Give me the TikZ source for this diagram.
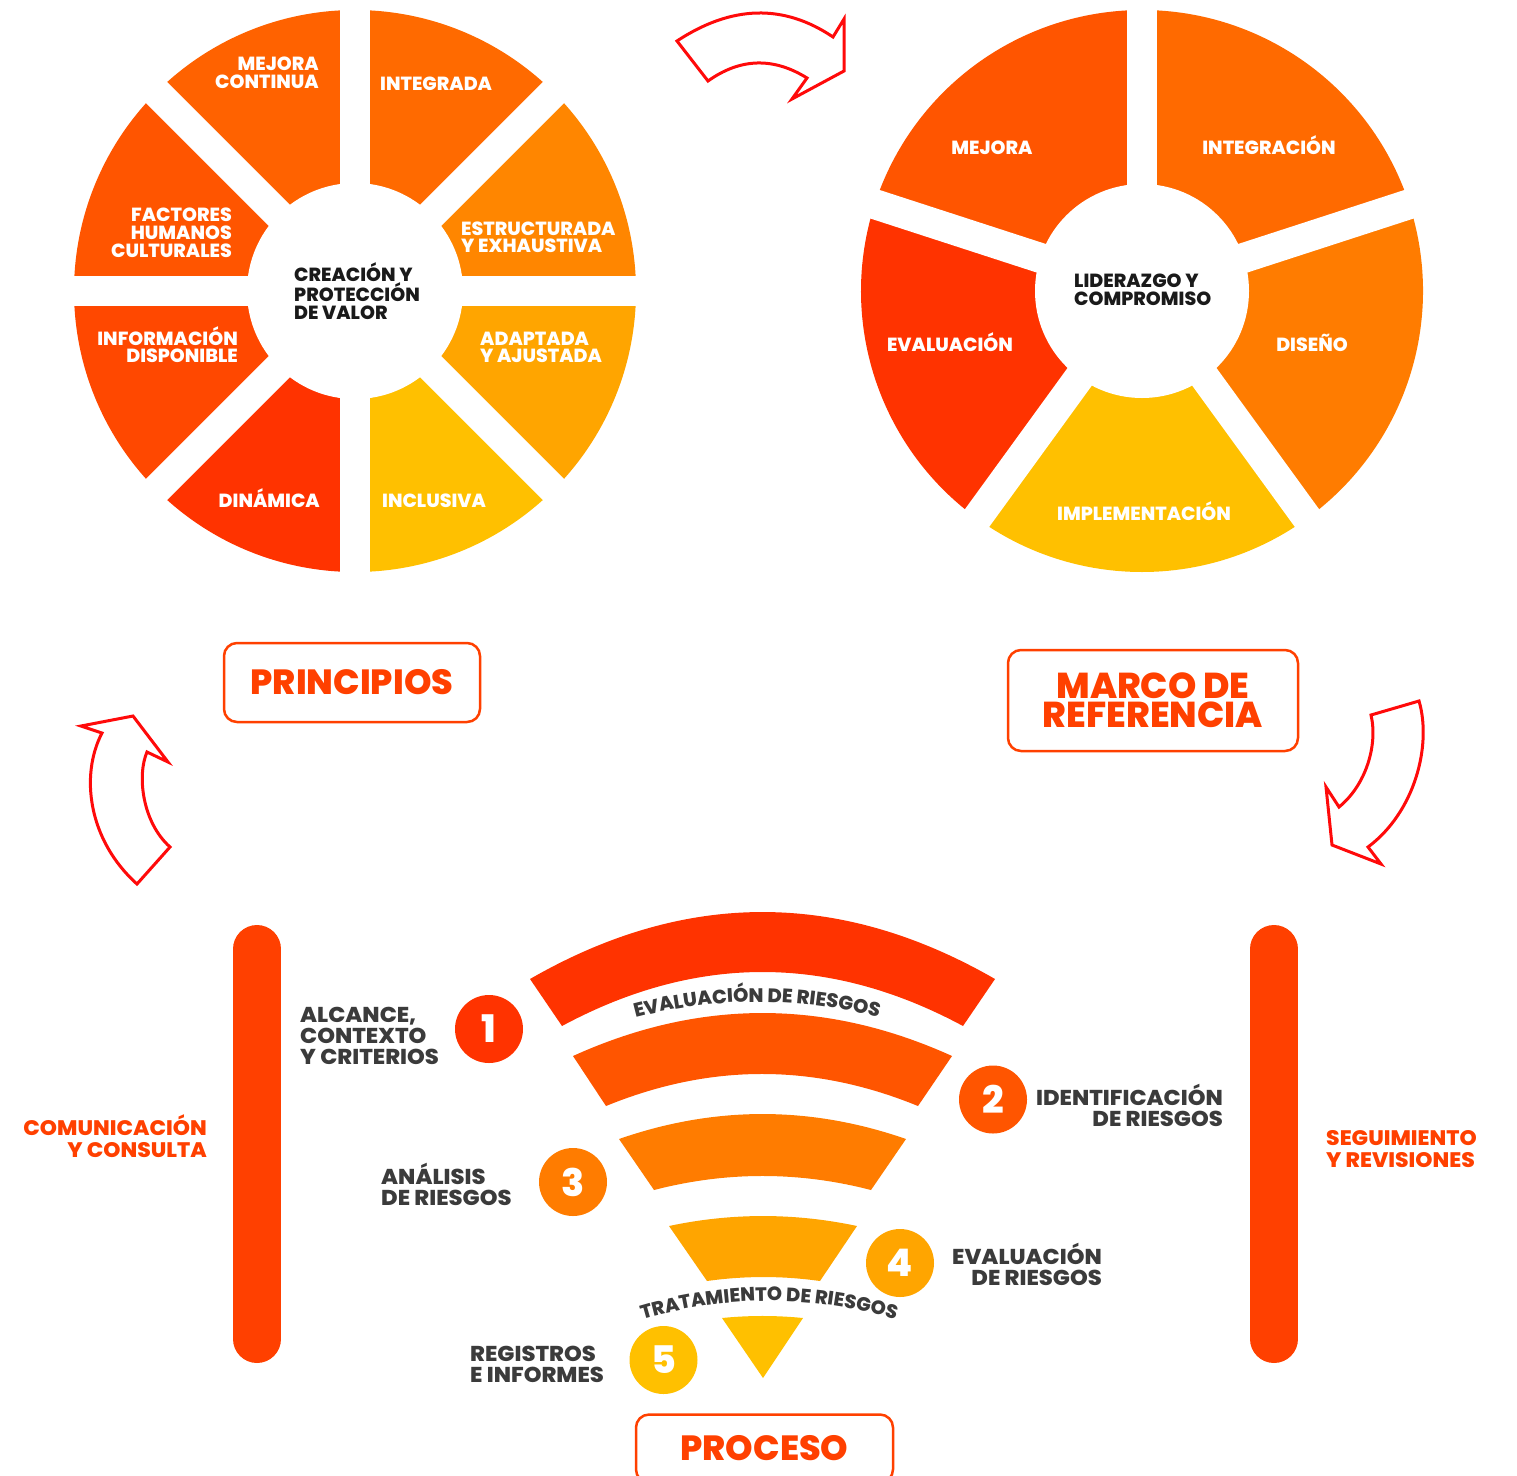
\documentclass[tikz,border=0pt]{standalone}
\usepackage{fontspec}
\setmainfont{Poppins}[BoldFont={Poppins ExtraBold}]
\usetikzlibrary{decorations.text}
\definecolor{wRed}{HTML}{FF3300}
\definecolor{wRedB}{HTML}{FF4800}
\definecolor{wOrA}{HTML}{FF5500}
\definecolor{wOrB}{HTML}{FF6200}
\definecolor{wOrC}{HTML}{FF6A00}
\definecolor{wOrD}{HTML}{FF7C00}
\definecolor{wOrE}{HTML}{FF8600}
\definecolor{wAmb}{HTML}{FFA500}
\definecolor{wYel}{HTML}{FFC000}
\definecolor{arrRed}{HTML}{FF0A0A}
\definecolor{accent}{HTML}{FF4000}
\definecolor{txtDark}{HTML}{3B3B3B}
\definecolor{txtBlack}{HTML}{1A1A1A}
\tikzset{
  wlab/.style={text=white, inner sep=0pt, font=\fontsize{19}{17.8}\selectfont\bfseries},
  clab/.style={text=txtBlack, inner sep=0pt, font=\fontsize{19}{17.8}\selectfont\bfseries, align=left},
  plab/.style={text=txtDark, inner sep=0pt, font=\fontsize{21.5}{21}\selectfont\bfseries\addfontfeatures{FakeStretch=1.05}},
  slab/.style={text=accent, inner sep=0pt, font=\fontsize{21}{22}\selectfont\bfseries\addfontfeatures{FakeStretch=1.04}},
  numc/.style={circle, inner sep=0pt, minimum size=68pt, text=white, font=\fontsize{38}{38}\selectfont\bfseries},
  titlebox/.style={draw=accent, line width=2.5pt, rounded corners=13pt, text=accent, inner sep=0pt, align=center},
  blockarrow/.style={draw=arrRed, line width=3pt, fill=white, line join=miter},
  sidebar/.style={draw=accent, line width=48pt, line cap=round},
  gapline/.style={draw=white, line width=30pt},
}
\begin{document}
\begin{tikzpicture}[x=1pt,y=-1pt]
\useasboundingbox (0,0) rectangle (1517,1475);
% ---------------- left wheel : principios
\coordinate (P) at (355,291);
\fill[wOrC]  (P) -- ++(-90:281) arc[start angle=-90,end angle=-45,radius=281] -- cycle;
\fill[wOrE]  (P) -- ++(-45:281) arc[start angle=-45,end angle=0,radius=281] -- cycle;
\fill[wAmb]  (P) -- ++(0:281) arc[start angle=0,end angle=45,radius=281] -- cycle;
\fill[wYel]  (P) -- ++(45:281) arc[start angle=45,end angle=90,radius=281] -- cycle;
\fill[wRed]  (P) -- ++(90:281) arc[start angle=90,end angle=135,radius=281] -- cycle;
\fill[wRedB] (P) -- ++(135:281) arc[start angle=135,end angle=180,radius=281] -- cycle;
\fill[wOrA]  (P) -- ++(180:281) arc[start angle=180,end angle=225,radius=281] -- cycle;
\fill[wOrB]  (P) -- ++(225:281) arc[start angle=225,end angle=270,radius=281] -- cycle;
\foreach \a in {0,45,90,135} \draw[gapline] (P) ++(\a:300) -- ++(\a+180:600);
\fill[white] (P) circle[radius=108];
\node[wlab, anchor=base east, align=right] (l1) at (319,88.6) {MEJORA\\CONTINUA};
\node[wlab, anchor=base west] (l2) at (380,90.6) {INTEGRADA};
\node[wlab, anchor=base east, align=right] (l3) at (232,257.5) {FACTORES\\HUMANOS\\CULTURALES};
\node[wlab, anchor=base west, align=left] (l4) at (461,252.9) {ESTRUCTURADA\\Y EXHAUSTIVA};
\node[clab, anchor=base west] (l0) at (294,319.2) {CREACIÓN Y\\PROTECCIÓN\\DE VALOR};
\node[wlab, anchor=base east, align=right] (l5) at (238,362.9) {INFORMACIÓN\\DISPONIBLE};
\node[wlab, anchor=base west, align=left] (l6) at (480,362.9) {ADAPTADA\\Y AJUSTADA};
\node[wlab, anchor=base east] (l7) at (320,507.1) {DINÁMICA};
\node[wlab, anchor=base west] (l8) at (382,507.1) {INCLUSIVA};
% ---------------- right wheel : marco
\coordinate (Q) at (1142,291);
\fill[wOrA] (Q) -- ++(198:281) arc[start angle=198,end angle=270,radius=281] -- cycle;
\fill[wOrC] (Q) -- ++(-90:281) arc[start angle=-90,end angle=-18,radius=281] -- cycle;
\fill[wOrD] (Q) -- ++(-18:281) arc[start angle=-18,end angle=54,radius=281] -- cycle;
\fill[wYel] (Q) -- ++(54:281) arc[start angle=54,end angle=126,radius=281] -- cycle;
\fill[wRed] (Q) -- ++(126:281) arc[start angle=126,end angle=198,radius=281] -- cycle;
\foreach \a in {-90,-18,54,126,198} \draw[gapline] (Q) -- ++(\a:300);
\fill[white] (Q) circle[radius=107];
\node[wlab, anchor=base] (r1) at (992,154) {MEJORA};
\node[wlab, anchor=base] (r2) at (1269,154) {INTEGRACIÓN};
\node[clab, anchor=base west] (r0) at (1074,305.4) {LIDERAZGO Y\\COMPROMISO};
\node[wlab, anchor=base] (r3) at (950,351.6) {EVALUACIÓN};
\node[wlab, anchor=base] (r4) at (1312,351.6) {DISEÑO};
\node[wlab, anchor=base] (r5) at (1144,520) {IMPLEMENTACIÓN};
% ---------------- block arrows
\draw[blockarrow] (677,41) -- (708,81) .. controls (740.3,58) and (773.3,57) .. (807,78) -- (792,99) -- (844,71) -- (844,19) -- (833,37) .. controls (783.7,3.7) and (731.7,5) .. (677,41) -- cycle;
\draw[blockarrow] (133,716) -- (81,726) -- (102,733) .. controls (80,775) and (88,840) .. (137,884) -- (170,847) .. controls (142,822) and (137,775) .. (147,752) -- (168,762) -- cycle;
\draw[blockarrow] (1419,701) -- (1371,715) .. controls (1378,745) and (1366,785) .. (1339,807) -- (1326,787) -- (1332,845) -- (1381,864) -- (1368,847) .. controls (1415,812) and (1432,745) .. (1419,701) -- cycle;
% ---------------- title boxes
\node[titlebox, minimum width=256pt, minimum height=79pt, font=\fontsize{35}{35}\selectfont\bfseries] (principios) at (352,682.5) {\raisebox{-2pt}{PRINCIPIOS}};
\node[titlebox, minimum width=290pt, minimum height=101pt, font=\fontsize{36}{29}\selectfont\bfseries] (marco) at (1153,700.5) {MARCO DE\\REFERENCIA};
\node[titlebox, minimum width=257pt, minimum height=68pt, font=\fontsize{35}{35}\selectfont\bfseries] (proceso) at (764.5,1448.5) {PROCESO};
% ---------------- side bars
\coordinate (bl1) at (257,949); \coordinate (bl2) at (257,1339);
\coordinate (br1) at (1274,949); \coordinate (br2) at (1274,1339);
\draw[sidebar] (bl1) -- (bl2);
\draw[sidebar] (br1) -- (br2);
\node[slab, anchor=base east, align=right] (com) at (207,1157.5) {COMUNICACIÓN\\Y CONSULTA};
\node[slab, anchor=base west, align=left] (seg) at (1326,1167.5) {SEGUIMIENTO\\Y REVISIONES};
% ---------------- funnel
\fill[wRed] (530,979) .. controls (685,889.7) and (840,889.7) .. (995,979) -- (963,1026) .. controls (829.3,954) and (695.7,954) .. (562,1026) -- cycle;
\fill[wOrA] (573,1056) .. controls (699.3,998.7) and (825.7,998.7) .. (952,1056) -- (918,1106) .. controls (813.7,1063.3) and (710.3,1063.3) .. (606,1106) -- cycle;
\fill[wOrD] (619,1139) .. controls (714.7,1105.7) and (810.3,1105.7) .. (906,1139) -- (871,1190) .. controls (798.7,1171.3) and (726.3,1171.3) .. (654,1190) -- cycle;
\fill[wAmb] (669,1226) .. controls (731.3,1212.7) and (794.7,1212.7) .. (857,1226) -- (820,1281) .. controls (782.3,1275.7) and (744.7,1275.7) .. (707,1281) -- cycle;
\fill[wYel] (722,1318) .. controls (749,1315.3) and (776,1315.3) .. (803,1318) -- (763,1378) -- cycle;
\path[decorate, decoration={text along path, text align=center, text={|\fontsize{19.5}{19.5}\selectfont\bfseries\color{txtDark}|EVALUACIÓN DE RIESGOS}}] (579.1,1036.6) arc[start angle=-112,end angle=-68,radius=475];
\path[decorate, decoration={text along path, text align=center, text={|\fontsize{19.3}{19.3}\selectfont\bfseries\color{txtDark}|TRATAMIENTO DE RIESGOS}}] (618.5,1327.5) arc[start angle=-110,end angle=-70,radius=440];
% ---------------- numbered steps
\node[numc, fill=wRed] (n1) at (489,1029) {1};
\node[numc, fill=wOrA] (n2) at (993,1099.5) {2};
\node[numc, fill=wOrD] (n3) at (573,1182) {3};
\node[numc, fill=wAmb] (n4) at (900,1263) {4};
\node[numc, fill=wYel] (n5) at (663.5,1360) {5};
\node[plab, anchor=base west, align=left] (t1) at (300,1064.5) {ALCANCE,\\CONTEXTO\\Y CRITERIOS};
\node[plab, anchor=base east, align=right] (t2) at (1223,1126.5) {IDENTIFICACIÓN\\DE RIESGOS};
\node[plab, anchor=base west, align=left] (t3) at (381,1205.5) {ANÁLISIS\\DE RIESGOS};
\node[plab, anchor=base east, align=right] (t4) at (1102,1285.5) {EVALUACIÓN\\DE RIESGOS};
\node[plab, anchor=base west, align=left] (t5) at (470,1382.5) {REGISTROS\\E INFORMES};
\end{tikzpicture}
\end{document}
